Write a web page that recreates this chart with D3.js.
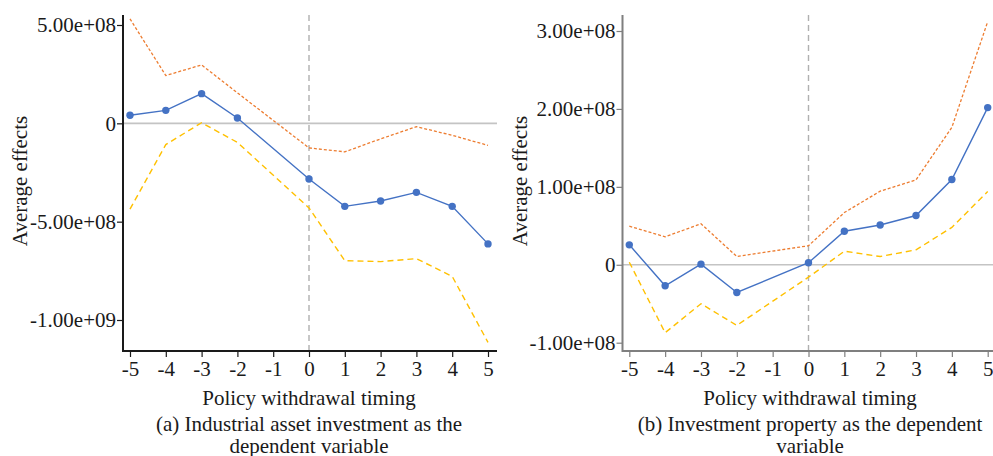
<!DOCTYPE html>
<html>
<head>
<meta charset="utf-8">
<script src="https://cdn.jsdelivr.net/npm/d3@7"></script>
</head>
<body style="margin:0">
<svg id="chart" width="993" height="456" font-family="Times New Roman" font-size="21"></svg>
<script>
// Event-study periods (period -1 is the omitted base year)
const periods = [-5, -4, -3, -2, -1, 0, 1, 2, 3, 4, 5];
const estPeriods = [-5, -4, -3, -2, 0, 1, 2, 3, 4, 5];

// Panel (a): industrial asset investment
const aEstimate = [4.1e7, 6.6e7, 1.51e8, 2.7e7, -2.83e8, -4.22e8, -3.95e8, -3.51e8, -4.22e8, -6.13e8];
const aUpper    = [5.31e8, 2.43e8, 2.97e8, 1.55e8, -1.25e8, -1.45e8, -7.9e7, -1.7e7, -6.1e7, -1.12e8];
const aLower    = [-4.36e8, -1.08e8, 3e6, -9.7e7, -4.3e8, -6.98e8, -7.03e8, -6.88e8, -7.78e8, -1.114e9];
const aTicks    = [5e8, 0, -5e8, -1e9];

// Panel (b): investment property
const bEstimate = [2.56e7, -2.69e7, 8e5, -3.55e7, 2.6e6, 4.31e7, 5.1e7, 6.32e7, 1.094e8, 2.017e8];
const bUpper    = [4.95e7, 3.59e7, 5.26e7, 1.06e7, 2.44e7, 6.7e7, 9.44e7, 1.09e8, 1.764e8, 3.12e8];
const bLower    = [3.3e6, -8.72e7, -5.0e7, -7.78e7, -1.59e7, 1.74e7, 1.06e7, 1.92e7, 4.8e7, 9.4e7];
const bTicks    = [3e8, 2e8, 1e8, 0, -1e8];

const xTitle = "Policy withdrawal timing";
const yTitle = "Average effects";
const aCaption = ["(a) Industrial asset investment as the", "dependent variable"];
const bCaption = ["(b) Investment property as the dependent", "variable"];

const svg = d3.select("#chart");
const FONT = 21;
const FAMILY = "Times New Roman";
const TEXT = "#1a1a1a";

// Scientific notation with a two-digit exponent and a plain hyphen, e.g. -5.00e+08
function sci(v) {
  if (v === 0) return "0";
  const s = d3.format(".2e")(v).replace("\u2212", "-");
  return s.replace(/e([+-])(\d)$/, "e$10$2");
}
const intFmt = v => String(v);

function textStyle(sel) {
  return sel.attr("font-family", FAMILY).attr("font-size", FONT).attr("fill", TEXT);
}

function panel(opts) {
  const g = svg.append("g");
  const x = d3.scaleLinear().domain([-5, 5]).range(opts.xRange);
  const y = d3.scaleLinear().domain(opts.yDomain).range(opts.yRange);
  const [left, right] = opts.plotX;
  const [top, bottom] = opts.plotY;

  // zero reference line
  g.append("line")
    .attr("x1", left).attr("x2", right)
    .attr("y1", y(0)).attr("y2", y(0))
    .attr("stroke", "#c4c4c4").attr("stroke-width", 1.6);

  // treatment timing marker
  g.append("line")
    .attr("x1", x(0)).attr("x2", x(0))
    .attr("y1", top).attr("y2", bottom)
    .attr("stroke", "#b0b0b0").attr("stroke-width", 1.4)
    .attr("stroke-dasharray", "6,4");

  const line = d3.line().x(d => x(d[0])).y(d => y(d[1]));
  const pairs = arr => estPeriods.map((p, i) => [p, arr[i]]);

  g.append("path").datum(pairs(opts.upper))
    .attr("d", line).attr("fill", "none")
    .attr("stroke", "#ED7D31").attr("stroke-width", 1.3)
    .attr("stroke-dasharray", "3,2");

  g.append("path").datum(pairs(opts.lower))
    .attr("d", line).attr("fill", "none")
    .attr("stroke", "#FFC000").attr("stroke-width", 1.4)
    .attr("stroke-dasharray", "6,4");

  g.append("path").datum(pairs(opts.est))
    .attr("d", line).attr("fill", "none")
    .attr("stroke", "#4472C4").attr("stroke-width", 1.4);

  g.selectAll("circle.pt").data(pairs(opts.est)).enter()
    .append("circle").attr("class", "pt")
    .attr("cx", d => x(d[0])).attr("cy", d => y(d[1]))
    .attr("r", 3.7).attr("fill", "#4472C4");

  const axisColor = opts.axisColor;

  // y axis
  const yAxis = g.append("g").attr("transform", `translate(${left},0)`)
    .call(d3.axisLeft(y).tickValues(opts.ticks).tickFormat(sci).tickSize(6).tickPadding(1));
  yAxis.attr("font-family", FAMILY).attr("font-size", FONT);
  yAxis.select(".domain").remove();
  yAxis.selectAll(".tick line").attr("stroke", axisColor).attr("stroke-width", 1.2);
  textStyle(yAxis.selectAll(".tick text"));
  g.append("line").attr("x1", left).attr("x2", left).attr("y1", top).attr("y2", bottom + 1)
    .attr("stroke", axisColor).attr("stroke-width", 2);

  // x axis
  const xAxis = g.append("g").attr("transform", `translate(0,${bottom})`)
    .call(d3.axisBottom(x).tickValues(periods).tickFormat(intFmt).tickSize(6).tickPadding(4));
  xAxis.attr("font-family", FAMILY).attr("font-size", FONT);
  xAxis.select(".domain").remove();
  xAxis.selectAll(".tick line").attr("stroke", axisColor).attr("stroke-width", 1.2);
  textStyle(xAxis.selectAll(".tick text"));
  g.append("line").attr("x1", left).attr("x2", right).attr("y1", bottom).attr("y2", bottom)
    .attr("stroke", axisColor).attr("stroke-width", 2);

  // titles
  textStyle(g.append("text")).attr("x", opts.titleX).attr("y", 405)
    .attr("text-anchor", "middle").text(xTitle);
  opts.caption.forEach((t, i) => {
    textStyle(g.append("text")).attr("x", opts.titleX).attr("y", 431 + i * 22)
      .attr("text-anchor", "middle").text(t);
  });
  textStyle(g.append("text"))
    .attr("transform", `translate(${opts.yTitleX},181) rotate(-90)`)
    .attr("text-anchor", "middle").text(yTitle);
}

panel({
  xRange: [130, 488], plotX: [123, 497], plotY: [15, 351],
  yDomain: [-1e9, 5e8], yRange: [320, 25], ticks: aTicks,
  est: aEstimate, upper: aUpper, lower: aLower,
  axisColor: "#1a1a1a", titleX: 309, yTitleX: 27, caption: aCaption
});

panel({
  xRange: [629.3, 987.7], plotX: [622.5, 993], plotY: [15, 351],
  yDomain: [-1e8, 3e8], yRange: [342.7, 31], ticks: bTicks,
  est: bEstimate, upper: bUpper, lower: bLower,
  axisColor: "#7f7f7f", titleX: 810, yTitleX: 527, caption: bCaption
});
</script>
</body>
</html>
